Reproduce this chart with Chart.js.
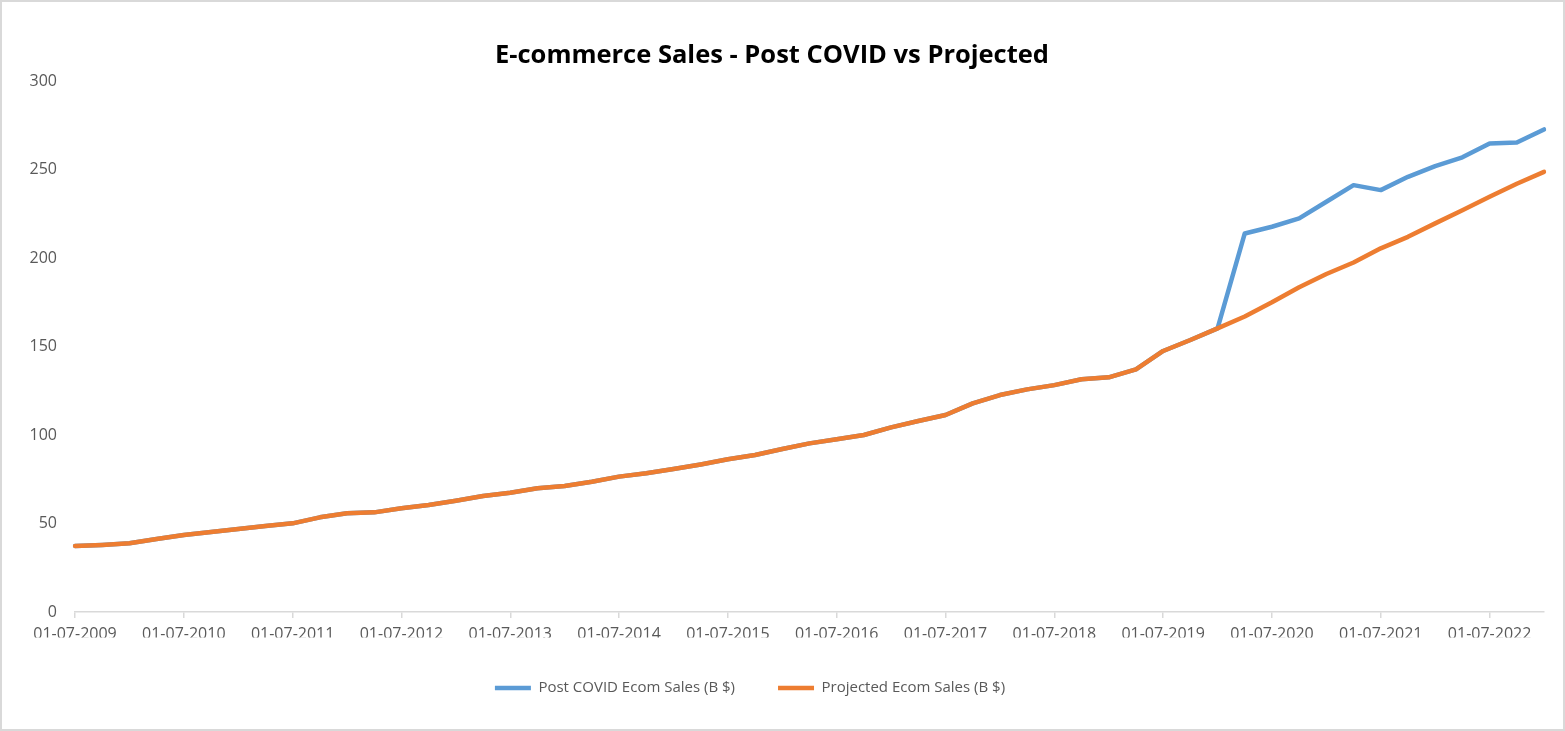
<!DOCTYPE html>
<html>
<head>
<meta charset="utf-8">
<script src="https://cdn.jsdelivr.net/npm/chart.js@4.4.1/dist/chart.umd.min.js"></script>
<style>
  html, body { margin: 0; padding: 0; background: #fff; }
  #wrap { position: relative; width: 1565px; height: 731px; }
  #frame { position: absolute; left: 0; top: 0; width: 1565px; height: 731px;
           box-sizing: border-box; border: 2px solid #d9d9d9; pointer-events: none; }
</style>
</head>
<body>
<div id="wrap">
  <canvas id="salesChart"></canvas>
  <div id="frame"></div>
</div>
<script>
"use strict";

// quarterly dates (dd-mm-yyyy)
var quarters = [
  '01-07-2009', '01-10-2009', '01-01-2010', '01-04-2010',
  '01-07-2010', '01-10-2010', '01-01-2011', '01-04-2011',
  '01-07-2011', '01-10-2011', '01-01-2012', '01-04-2012',
  '01-07-2012', '01-10-2012', '01-01-2013', '01-04-2013',
  '01-07-2013', '01-10-2013', '01-01-2014', '01-04-2014',
  '01-07-2014', '01-10-2014', '01-01-2015', '01-04-2015',
  '01-07-2015', '01-10-2015', '01-01-2016', '01-04-2016',
  '01-07-2016', '01-10-2016', '01-01-2017', '01-04-2017',
  '01-07-2017', '01-10-2017', '01-01-2018', '01-04-2018',
  '01-07-2018', '01-10-2018', '01-01-2019', '01-04-2019',
  '01-07-2019', '01-10-2019', '01-01-2020', '01-04-2020',
  '01-07-2020', '01-10-2020', '01-01-2021', '01-04-2021',
  '01-07-2021', '01-10-2021', '01-01-2022', '01-04-2022',
  '01-07-2022', '01-10-2022', '01-01-2023'
];

// Post COVID (actual) sales, B $
var postCovidSales = [
  37.3, 37.9, 38.8, 41.2, 43.5, 45.2, 46.9, 48.6, 50.1, 53.5,
  55.8, 56.3, 58.6, 60.5, 62.9, 65.5, 67.4, 69.9, 71.2, 73.6,
  76.5, 78.4, 80.8, 83.4, 86.3, 88.7, 92.1, 95.3, 97.6, 100.0,
  104.3, 107.9, 111.3, 117.9, 122.6, 125.8, 128.2, 131.5, 132.6, 137.1,
  147.5, 153.7, 160.3, 213.9, 217.7, 222.4, 231.8, 241.2, 238.4, 245.9,
  252.0, 256.9, 264.8, 265.3, 272.7
];

// Projected sales, B $
var projectedSales = [
  37.3, 37.9, 38.8, 41.2, 43.5, 45.2, 46.9, 48.6, 50.1, 53.5,
  55.8, 56.3, 58.6, 60.5, 62.9, 65.5, 67.4, 69.9, 71.2, 73.6,
  76.5, 78.4, 80.8, 83.4, 86.3, 88.7, 92.1, 95.3, 97.6, 100.0,
  104.3, 107.9, 111.3, 117.9, 122.6, 125.8, 128.2, 131.5, 132.6, 137.1,
  147.5, 153.7, 160.3, 167.0, 175.0, 183.5, 191.0, 197.5, 205.5, 212.0,
  219.6, 227.0, 234.6, 242.0, 248.7
];

var yTicks = [0, 50, 100, 150, 200, 250, 300];

var blueColor = '#5b9bd5';
var orangeColor = '#ed7d31';
var labelColor = '#595959';
var axisColor = '#d9d9d9';
var fontFamily = "'Open Sans', 'Noto Sans', sans-serif";

// legend sits a little left of centre in the original
var legendShift = {
    id: 'legendShift',
    afterLayout: function (chart) {
        if (chart.legend) {
            chart.legend.left -= 22;
            chart.legend.right -= 22;
        }
    }
};

var ctx = document.getElementById('salesChart');

var chart = new Chart(ctx, {
    type: 'line',
    data: {
        labels: quarters,
        datasets: [{
            label: 'Post COVID Ecom Sales (B $)',
            data: postCovidSales,
            borderColor: blueColor,
            backgroundColor: blueColor,
            borderWidth: 4.5,
            borderCapStyle: 'round',
            borderJoinStyle: 'round',
            pointRadius: 0,
            tension: 0,
            order: 2 // drawn under the projection
        }, {
            label: 'Projected Ecom Sales (B $)',
            data: projectedSales,
            borderColor: orangeColor,
            backgroundColor: orangeColor,
            borderWidth: 4.5,
            borderCapStyle: 'round',
            borderJoinStyle: 'round',
            pointRadius: 0,
            tension: 0,
            order: 1
        }]
    },
    plugins: [legendShift],
    options: {
        responsive: true,
        maintainAspectRatio: false,
        animation: false,
        layout: {
            padding: { left: 0, right: 21, top: 0, bottom: 25.5 }
        },
        plugins: {
            title: {
                display: true,
                text: 'E-commerce Sales - Post COVID vs Projected',
                color: '#000',
                font: { family: fontFamily, size: 25.5, weight: 'bold' },
                padding: { top: 40.5, bottom: 10 }
            },
            legend: {
                position: 'bottom',
                reverse: true,
                labels: {
                    color: labelColor,
                    font: { family: fontFamily, size: 15 },
                    usePointStyle: true,
                    pointStyle: 'line',
                    pointStyleWidth: 36,
                    padding: 43
                }
            },
            tooltip: { enabled: false }
        },
        scales: {
            x: {
                offset: false,
                border: { display: true, color: axisColor, width: 1.5 },
                grid: {
                    display: true,
                    drawOnChartArea: false,
                    drawTicks: true,
                    tickLength: 6,
                    color: axisColor,
                    lineWidth: 1.5
                },
                afterFit: function (scale) {
                    scale.height = 25.5;
                },
                ticks: {
                    autoSkip: false,
                    maxRotation: 0,
                    color: labelColor,
                    padding: 7,
                    font: { family: fontFamily, size: 16 },
                    callback: function (value, index) {
                        // one label per year
                        return index % 4 === 0 ? quarters[index] : null;
                    }
                }
            },
            y: {
                min: yTicks[0],
                max: yTicks[yTicks.length - 1],
                border: { display: false },
                grid: { display: false },
                afterFit: function (scale) {
                    scale.width = 75;
                },
                afterBuildTicks: function (scale) {
                    scale.ticks = yTicks.map(function (v) { return { value: v }; });
                },
                ticks: {
                    color: labelColor,
                    padding: 10,
                    font: { family: fontFamily, size: 16 }
                }
            }
        }
    }
});
</script>
</body>
</html>
